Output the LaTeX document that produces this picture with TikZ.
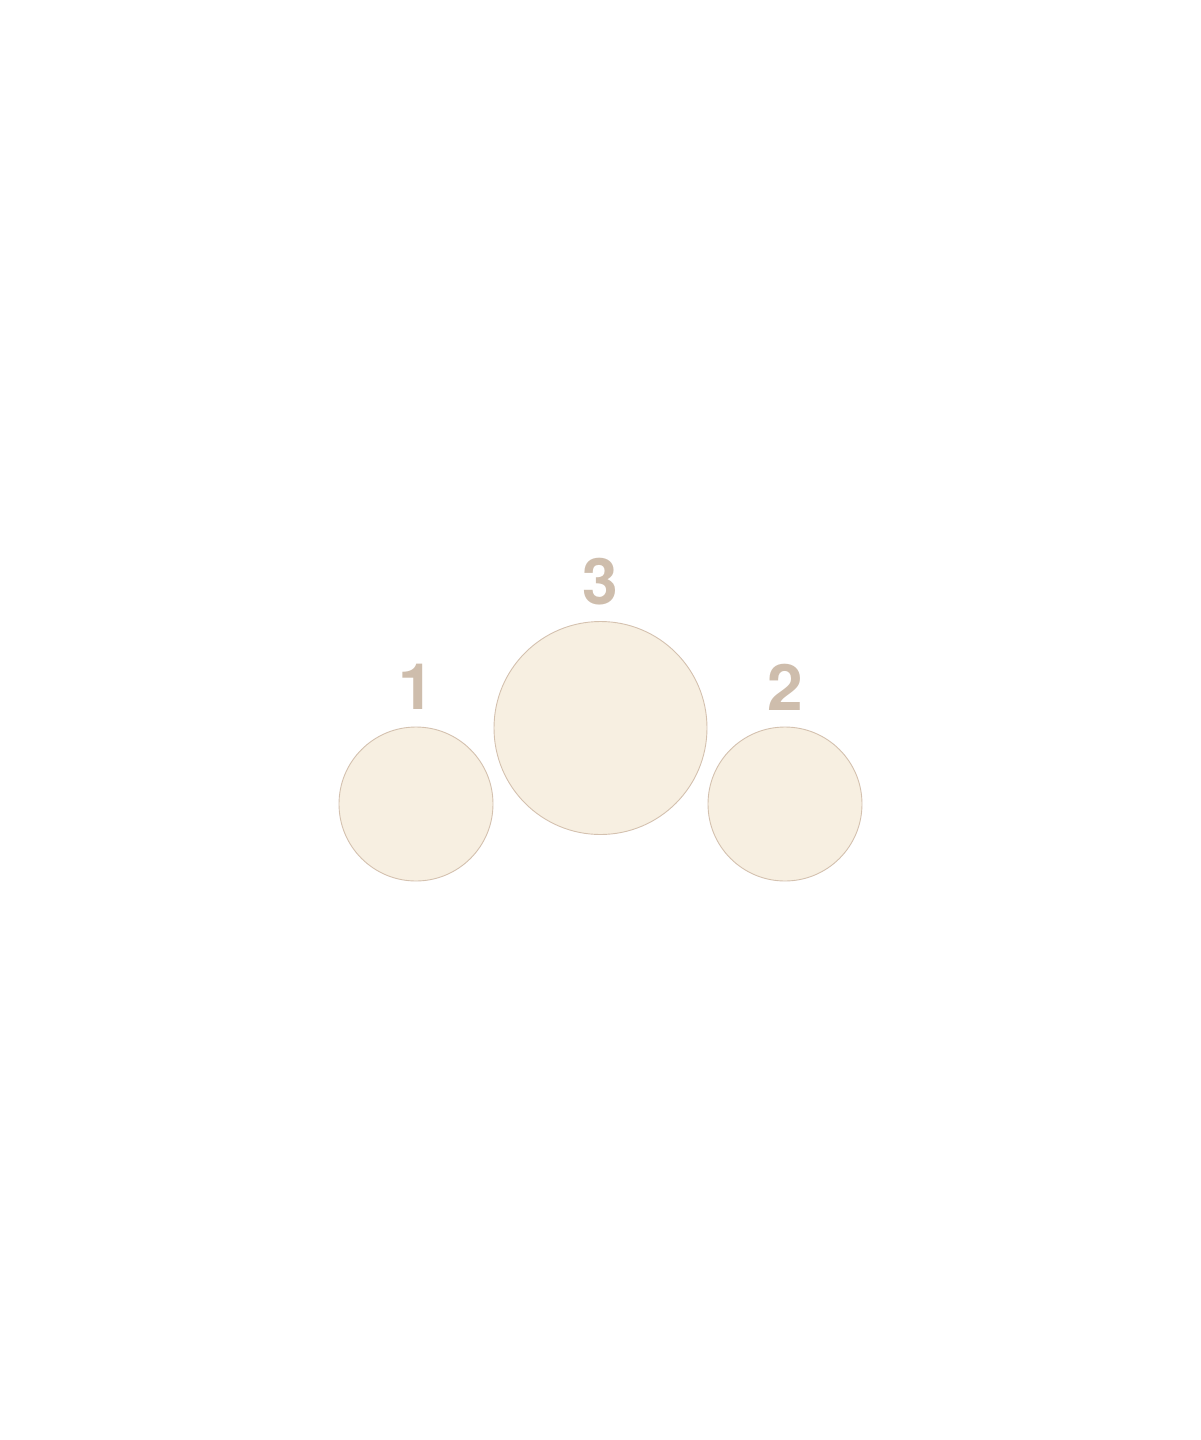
\documentclass[tikz,border=0pt]{standalone}
\usepackage{fontspec}
\setmainfont{TeX Gyre Heros}
\definecolor{sandfill}{RGB}{247,239,225}
\definecolor{sanddraw}{RGB}{212,193,175}
\definecolor{sandtext}{RGB}{206,189,172}

\begin{document}
\begin{tikzpicture}[x=1pt, y=-1pt,
    ball/.style={circle, draw=sanddraw, fill=sandfill, line width=0.9pt, inner sep=0pt},
    rank/.style={text=sandtext, inner sep=0pt, font=\fontsize{64}{64}\selectfont\bfseries}]

    % page frame
    \useasboundingbox (0,0) rectangle (1200,1440);

    % constants
    \def\rsmall{154pt}
    \def\rlarge{213pt}

    % podium circles
    \node[ball, minimum size=\rsmall] (first) at (416,804) {};
    \node[ball, minimum size=\rlarge] (third) at (600.5,728) {};
    \node[ball, minimum size=\rsmall] (second) at (785,804) {};

    % ranks
    \node[rank] (firstlabel) at (416,687) {1};
    \node[rank] (thirdlabel) at (600.5,582) {3};
    \node[rank] (secondlabel) at (785,687) {2};

\end{tikzpicture}
\end{document}
